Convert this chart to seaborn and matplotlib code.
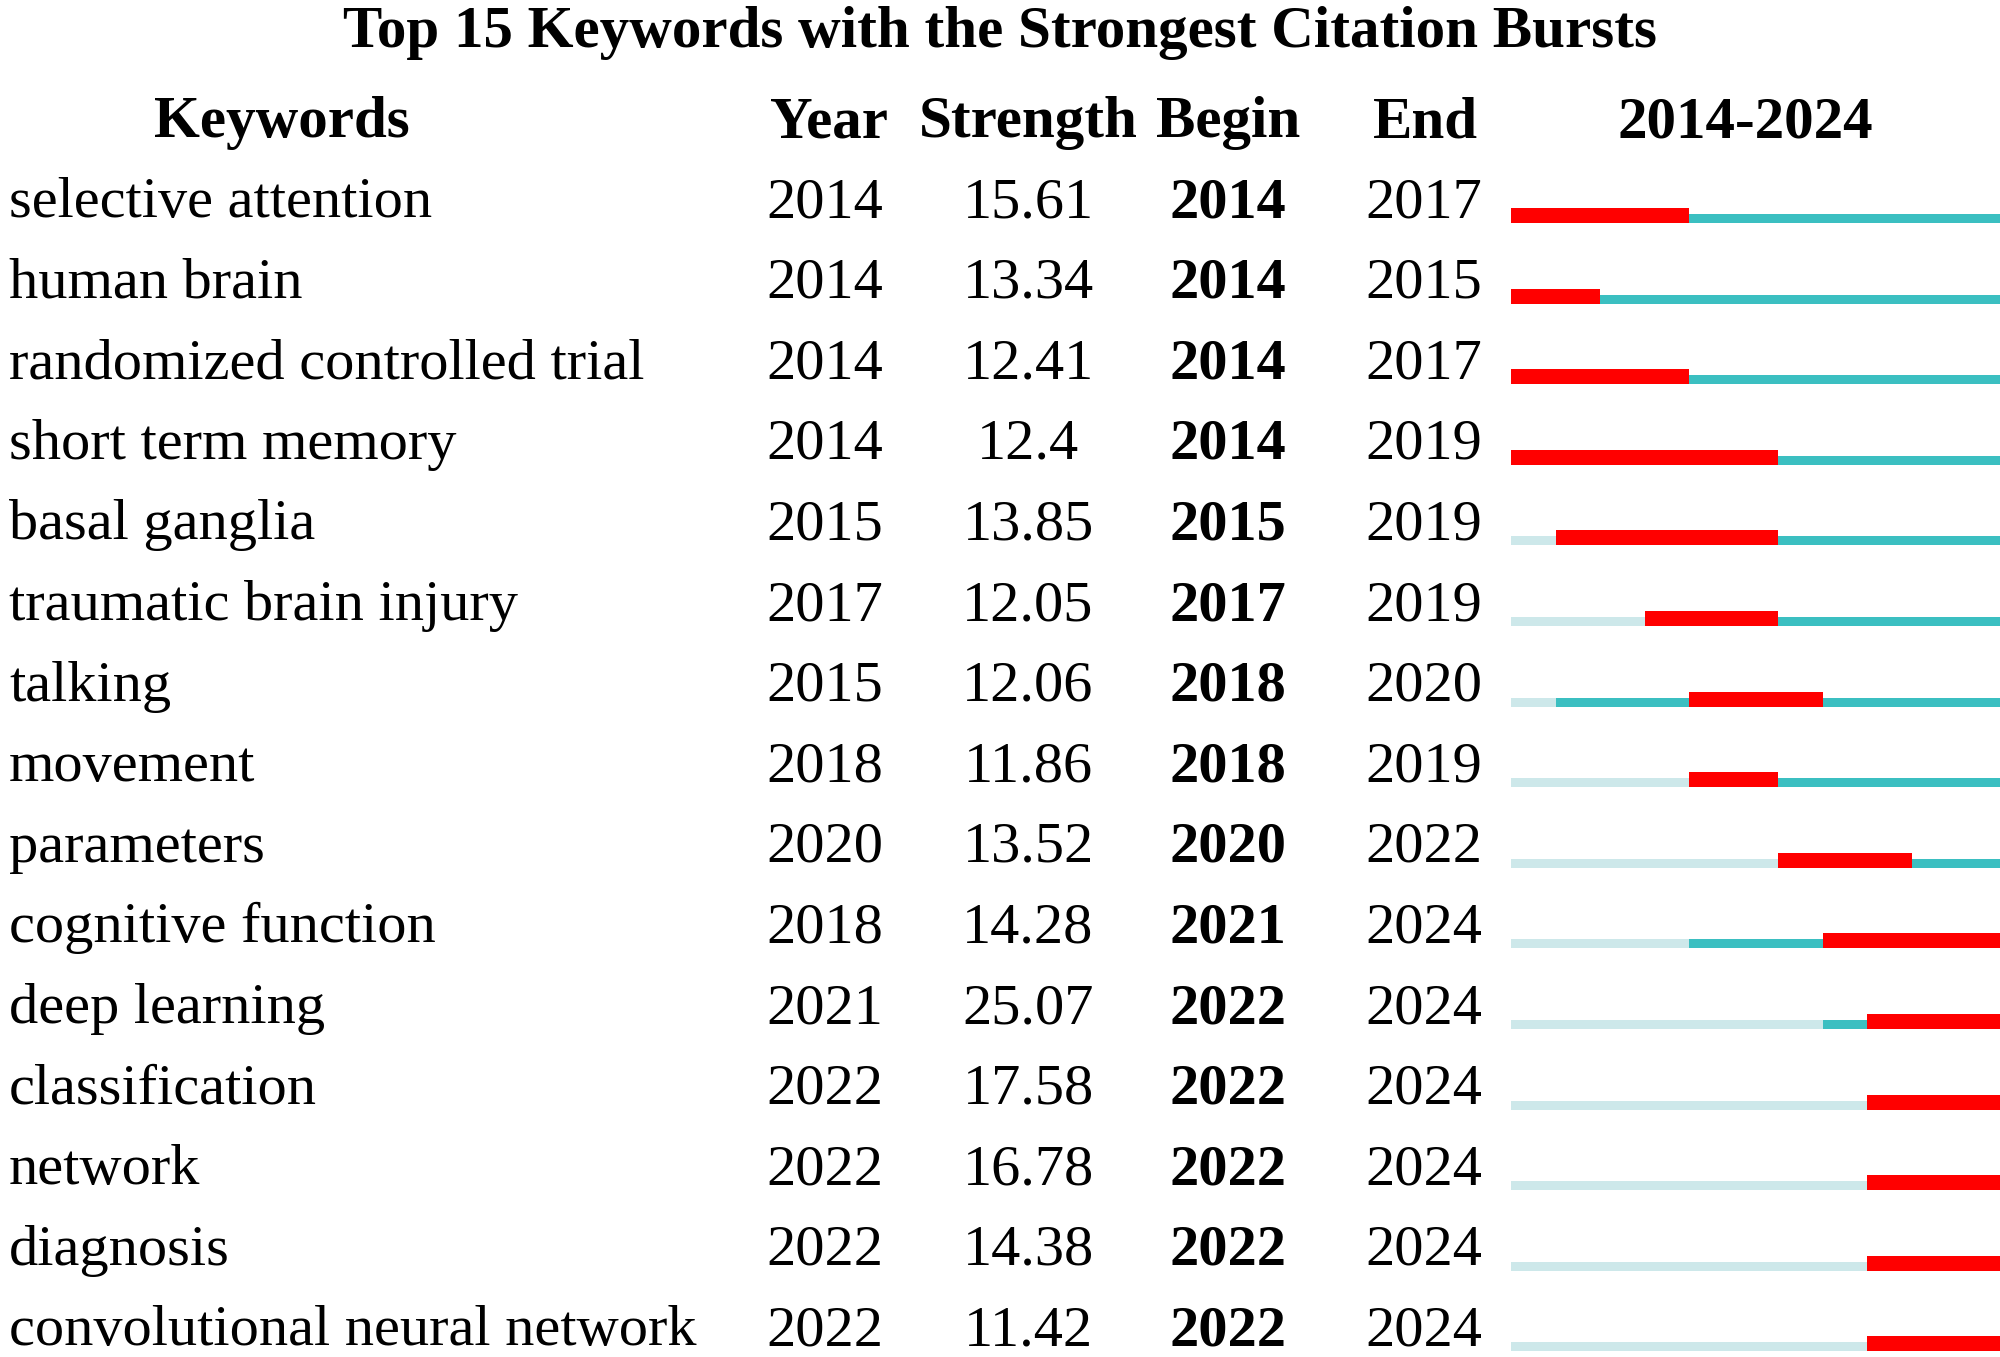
"""Citation burst table: top 15 keywords, 2014-2024."""
import matplotlib
matplotlib.use("Agg")
import matplotlib.pyplot as plt
import numpy as np
import seaborn as sns

keywords = [
    "selective attention", "human brain", "randomized controlled trial",
    "short term memory", "basal ganglia", "traumatic brain injury", "talking",
    "movement", "parameters", "cognitive function", "deep learning",
    "classification", "network", "diagnosis", "convolutional neural network",
]
years = [2014, 2014, 2014, 2014, 2015, 2017, 2015, 2018, 2020, 2018, 2021, 2022, 2022, 2022, 2022]
strengths = [15.61, 13.34, 12.41, 12.4, 13.85, 12.05, 12.06, 11.86, 13.52, 14.28, 25.07, 17.58, 16.78, 14.38, 11.42]
begins = [2014, 2014, 2014, 2014, 2015, 2017, 2018, 2018, 2020, 2021, 2022, 2022, 2022, 2022, 2022]
ends = [2017, 2015, 2017, 2019, 2019, 2019, 2020, 2019, 2022, 2024, 2024, 2024, 2024, 2024, 2024]
span_start, span_end = 2014, 2024
headers = ["Keywords", "Year", "Strength", "Begin", "End", f"{span_start}-{span_end}"]
title = "Top 15 Keywords with the Strongest Citation Bursts"

RED = "#ff0000"
TEAL = "#3bbfc1"
LIGHT = "#cde8ea"

W, H = 2000, 1357
ROW_PITCH = 80.6
FIRST_BASELINE = 217
BODY_SIZE = 42


def fx(px):
    return px / W


def fy(py):
    return 1 - py / H


sns.set_theme(style="white")
plt.rcParams["font.family"] = ["Liberation Serif", "DejaVu Serif"]
plt.rcParams["text.color"] = "black"

fig = plt.figure(figsize=(W / 100, H / 100), dpi=100)
fig.patch.set_facecolor("white")

# title and column headers
fig.text(fx(1000), fy(47), title, ha="center", va="baseline", fontsize=42.5, fontweight="bold")
header_x = [282, 829, 1028, 1228, 1425, 1745]
for label, x in zip(headers, header_x):
    fig.text(fx(x), fy(137), label, ha="center", va="baseline", fontsize=42.5, fontweight="bold")

# table body
for i, kw in enumerate(keywords):
    base = fy(FIRST_BASELINE + ROW_PITCH * i)
    fig.text(fx(9), base, kw, ha="left", va="baseline", fontsize=BODY_SIZE)
    fig.text(fx(825), base, str(years[i]), ha="center", va="baseline", fontsize=BODY_SIZE)
    fig.text(fx(1028), base, f"{strengths[i]:g}", ha="center", va="baseline", fontsize=BODY_SIZE)
    fig.text(fx(1228), base, str(begins[i]), ha="center", va="baseline", fontsize=BODY_SIZE,
             fontweight="bold")
    fig.text(fx(1424), base, str(ends[i]), ha="center", va="baseline", fontsize=BODY_SIZE)

# timeline axes: one data unit per year, one per row
x0_px, x1_px = 1511, 2001
line_y0 = 218.5  # centre of the thin line of row 0
top_px = line_y0 - 0.5 * ROW_PITCH
bottom_px = line_y0 + 14.5 * ROW_PITCH
ax = fig.add_axes([fx(x0_px), fy(bottom_px), fx(x1_px - x0_px), (bottom_px - top_px) / H])
ax.set_xlim(span_start, span_end + 1)
ax.set_ylim(len(keywords) - 0.5, -0.5)
ax.axis("off")

rows = np.arange(len(keywords))
yr = np.array(years)
bg = np.array(begins)
en = np.array(ends) + 1
thin = 9 / ROW_PITCH
thick = 15 / ROW_PITCH
red_y = rows + thin / 2 - thick / 2

ax.barh(rows, yr - span_start, left=span_start, height=thin, color=LIGHT, linewidth=0)
ax.barh(rows, bg - yr, left=yr, height=thin, color=TEAL, linewidth=0)
ax.barh(rows, span_end + 1 - en, left=en, height=thin, color=TEAL, linewidth=0)
ax.barh(red_y, en - bg, left=bg, height=thick, color=RED, linewidth=0)

fig.savefig("out.png", dpi=100, facecolor="white")
